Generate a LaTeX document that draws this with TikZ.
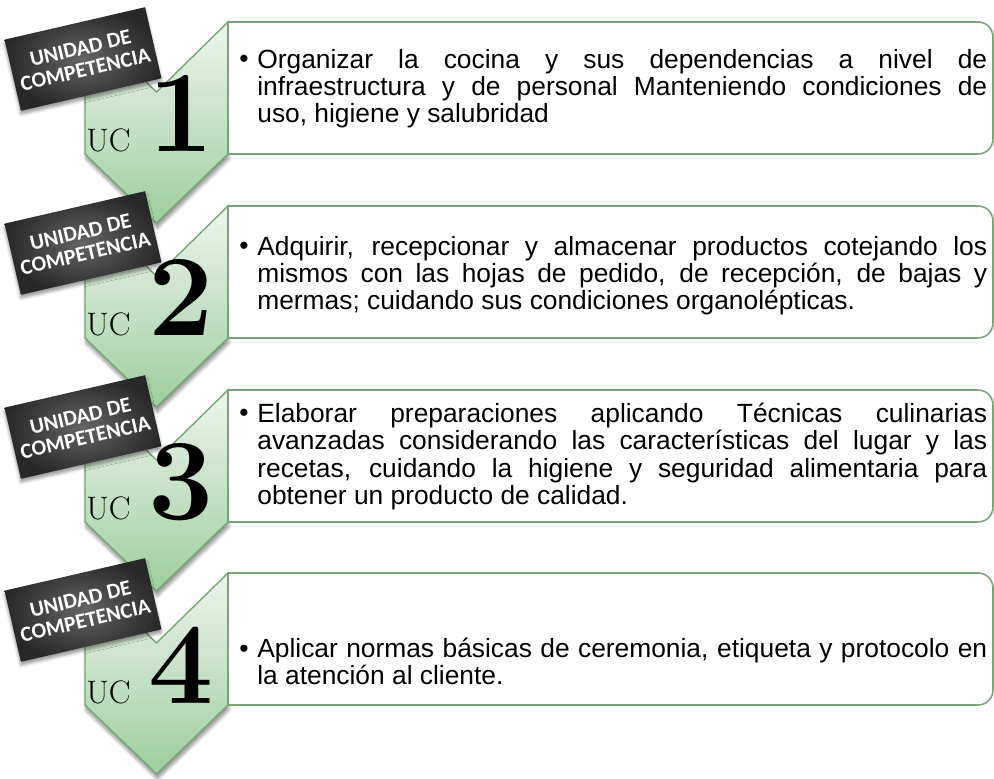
\documentclass[tikz,border=0pt]{standalone}
\usepackage{fontspec}
\newfontfamily\arialfont{Liberation Sans}
\newfontfamily\calfont{Carlito}
\usepackage{tikz}
\usetikzlibrary{shadows,shadows.blur}
\usepackage{xcolor}
\definecolor{ucgreen}{RGB}{118,168,118}
\definecolor{uctop}{RGB}{238,244,238}
\definecolor{ucbottom}{RGB}{158,206,158}
\definecolor{uclabel}{RGB}{100,100,100}
\definecolor{uclabeldark}{RGB}{40,40,40}
\tikzstyle{chevron} = [draw=ucgreen, line width=0.8pt, top color=uctop, bottom color=ucbottom, blur shadow={shadow xshift=0.5pt, shadow yshift=-3pt, shadow blur steps=6}]
\tikzstyle{panel} = [draw=ucgreen, line width=0.9pt, fill=white]
\tolerance=9999
\hyphenpenalty=10000
\newcommand{\desctext}{\arialfont\fontsize{15}{15.5}\selectfont\lineskiplimit=-20pt\relax}

\begin{document}
\begin{tikzpicture}[
    x=0.02cm, y=0.02cm,
    tagbox/.style={rectangle, rotate=13, minimum width=2.8cm, minimum height=1.46cm, inner color=uclabel, outer color=uclabeldark, text=white, align=center, font=\calfont\bfseries\fontsize{12.3}{12.5}\selectfont, blur shadow={shadow xshift=0pt, shadow yshift=-2pt, shadow blur steps=4}},
    ucname/.style={anchor=base west, inner sep=0pt, font=\rmfamily\fontsize{18.5}{18.5}\selectfont},
    ucnum/.style={anchor=base east, inner sep=0pt, font=\rmfamily\bfseries\fontsize{66}{66}\selectfont},
    dot/.style={anchor=base west, inner sep=0pt, font=\arialfont\fontsize{15}{15.5}\selectfont},
    desc/.style={anchor=north west, inner sep=0pt, text width=14.6cm, align=justify, font=\desctext}
]
\useasboundingbox (0,0) rectangle (994,778);

% Unit 1
\draw[chevron] (85,756) -- (156.5,686) -- (228,756) -- (228,624) -- (156.5,555) -- (85,624) -- cycle;
\draw[panel] (228,756) -- (978,756) arc[start angle=90, end angle=0, radius=15] -- (993,639) arc[start angle=0, end angle=-90, radius=15] -- (228,624) -- cycle;
\node[tagbox] (tag1) at (83,719) {UNIDAD DE\\COMPETENCIA};
\node[ucname] (uc1) at (86,626) {UC};
\node[ucnum] (num1) at (214,626) {1};
\node[dot] (dot1) at (239,710) {•};
\node[desc] (desc1) at (257,729) {\strut Organizar la cocina y sus dependencias a nivel de\linebreak infraestructura y de personal Manteniendo condiciones de\linebreak uso, higiene y salubridad};

% Unit 2
\draw[chevron] (85,572) -- (156.5,502) -- (228,572) -- (228,440) -- (156.5,371) -- (85,440) -- cycle;
\draw[panel] (228,572) -- (978,572) arc[start angle=90, end angle=0, radius=15] -- (993,455) arc[start angle=0, end angle=-90, radius=15] -- (228,440) -- cycle;
\node[tagbox] (tag2) at (83,535) {UNIDAD DE\\COMPETENCIA};
\node[ucname] (uc2) at (86,442) {UC};
\node[ucnum] (num2) at (214,442) {2};
\node[dot] (dot2) at (239,523) {•};
\node[desc] (desc2) at (257,542) {\strut Adquirir, recepcionar y almacenar productos cotejando los\linebreak mismos con las hojas de pedido, de recepción, de bajas y\linebreak mermas; cuidando sus condiciones organolépticas.};

% Unit 3
\draw[chevron] (85,388) -- (156.5,318) -- (228,388) -- (228,256) -- (156.5,187) -- (85,256) -- cycle;
\draw[panel] (228,388) -- (978,388) arc[start angle=90, end angle=0, radius=15] -- (993,271) arc[start angle=0, end angle=-90, radius=15] -- (228,256) -- cycle;
\node[tagbox] (tag3) at (83,351) {UNIDAD DE\\COMPETENCIA};
\node[ucname] (uc3) at (86,258) {UC};
\node[ucnum] (num3) at (214,258) {3};
\node[dot] (dot3) at (239,356) {•};
\node[desc] (desc3) at (257,375) {\strut Elaborar preparaciones aplicando Técnicas culinarias\linebreak avanzadas considerando las características del lugar y las\linebreak recetas, cuidando la higiene y seguridad alimentaria para\linebreak obtener un producto de calidad.};

% Unit 4
\draw[chevron] (85,205) -- (156.5,135) -- (228,205) -- (228,73) -- (156.5,4) -- (85,73) -- cycle;
\draw[panel] (228,205) -- (978,205) arc[start angle=90, end angle=0, radius=15] -- (993,88) arc[start angle=0, end angle=-90, radius=15] -- (228,73) -- cycle;
\node[tagbox] (tag4) at (83,168) {UNIDAD DE\\COMPETENCIA};
\node[ucname] (uc4) at (86,75) {UC};
\node[ucnum] (num4) at (214,75) {4};
\node[dot] (dot4) at (239,121) {•};
\node[desc] (desc4) at (257,140) {\strut Aplicar normas básicas de ceremonia, etiqueta y protocolo en\linebreak la atención al cliente.};

\end{tikzpicture}
\end{document}
